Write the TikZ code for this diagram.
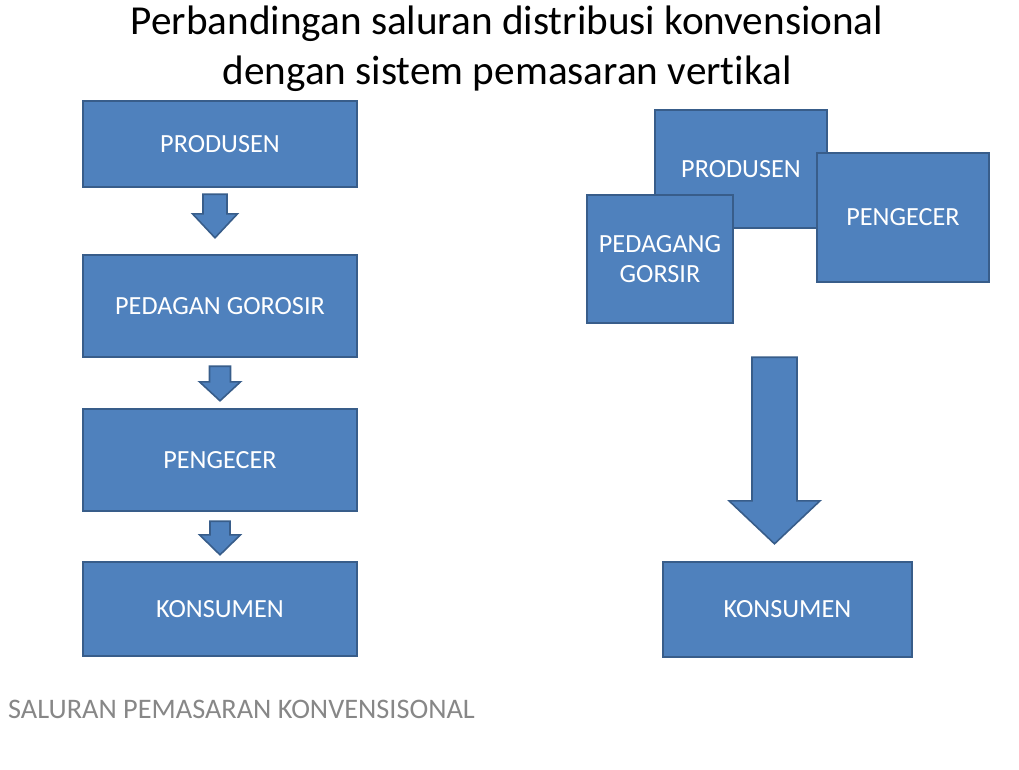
\documentclass[tikz,border=0pt]{standalone}
\usepackage{fontspec}
\setmainfont{Carlito}[Ligatures=NoCommon]
\usetikzlibrary{positioning, calc}

\definecolor{boxblue}{HTML}{4F81BD}
\definecolor{boxline}{HTML}{385D8A}
\definecolor{capgray}{HTML}{878787}

% block arrow: top point, tip point, shaft half width, head half width, head length
\newcommand{\blockarrow}[5]{%
  \path[blockarr] let \p1=(#1), \p2=(#2) in
    (\x1-#3pt,\y1) -- (\x1+#3pt,\y1) -- (\x1+#3pt,\y2+#5pt) -- (\x1+#4pt,\y2+#5pt)
    -- (\x1,\y2) -- (\x1-#4pt,\y2+#5pt) -- (\x1-#3pt,\y2+#5pt) -- cycle;}

\begin{document}
\begin{tikzpicture}[
        x=1pt, y=-1pt,
        chanbox/.style={draw=boxline, line width=2.4pt, fill=boxblue, text=white, align=center,
                        inner sep=0pt, font=\fontsize{26.2}{30.5}\selectfont},
        blockarr/.style={draw=boxline, line width=1.6pt, fill=boxblue, line join=miter},
        titletext/.style={align=center, font=\fontsize{41.2}{50}\selectfont},
        captext/.style={text=capgray, anchor=west, inner sep=0pt, font=\fontsize{28.3}{32}\selectfont}
    ]
    \useasboundingbox (0,0) rectangle (1019,769);

    % title
    \node[titletext] (title) at (507,49) {Perbandingan saluran distribusi konvensional\\dengan sistem pemasaran vertikal};

    % conventional channel
    \node[chanbox, minimum width=274, minimum height=86] (prodL) at (220,144) {PRODUSEN};
    \node[chanbox, minimum width=274, minimum height=102] (pedL) at (220,306) {PEDAGAN GOROSIR};
    \node[chanbox, minimum width=274, minimum height=102] (pengL) at (220,460) {PENGECER};
    \node[chanbox, minimum width=274, minimum height=94] (konsL) at (220,609) {KONSUMEN};

    \blockarrow{$(prodL.south)+(-5,6)$}{$(pedL.north)+(-5,-16)$}{12}{22.5}{24}
    \blockarrow{$(pedL.south)+(0,8)$}{$(pengL.north)+(0,-7)$}{10.5}{20.5}{19}
    \blockarrow{$(pengL.south)+(0,9)$}{$(konsL.north)+(0,-6)$}{10}{20.5}{20}

    \node[captext] (caption) at (8,709) {SALURAN PEMASARAN KONVENSISONAL};

    % vertical marketing system
    \node[chanbox, minimum width=172, minimum height=118] (prodR) at (741,169) {PRODUSEN};
    \node[chanbox, minimum width=146, minimum height=128] (pedR) at (660,259) {PEDAGANG\\GORSIR};
    \node[chanbox, minimum width=172, minimum height=129] (pengR) at (903,217.5) {PENGECER};
    \node[chanbox, minimum width=249, minimum height=95] (konsR) at (787.5,609.5) {KONSUMEN};

    \blockarrow{$(pedR.south -| konsR.north)+(-13,33)$}{$(konsR.north)+(-13,-17)$}{22.5}{45.5}{43}
\end{tikzpicture}
\end{document}
